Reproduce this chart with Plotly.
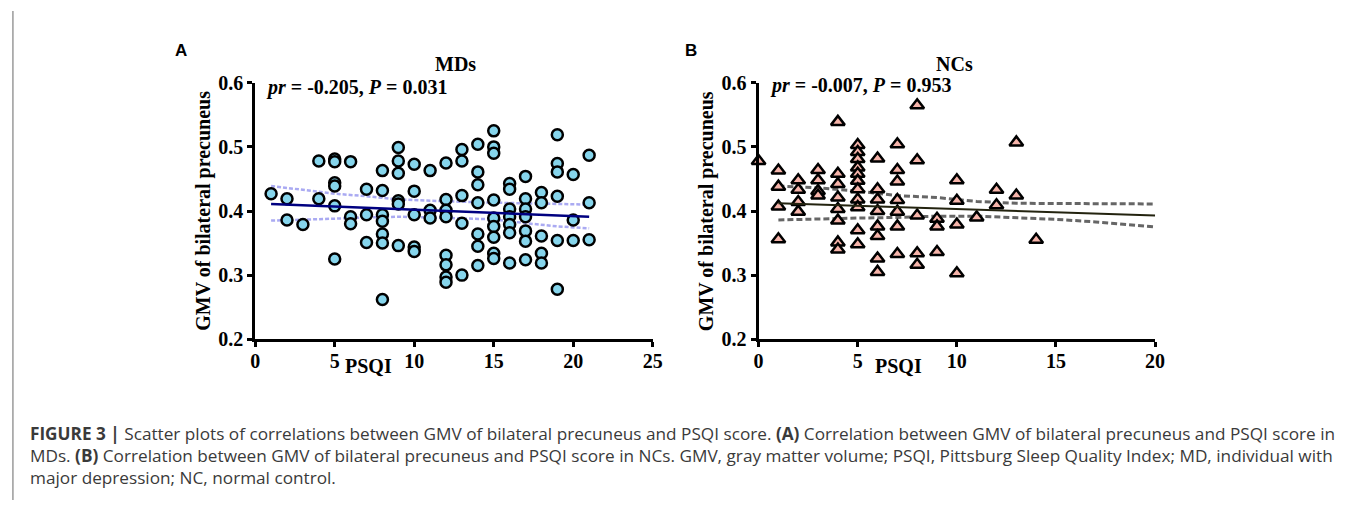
import plotly.graph_objects as go

W, H = 1355, 511

# ---------------- data: panel A (MDs) ----------------
md_x = [1,
        2, 2,
        3,
        4, 4,
        5, 5, 5, 5, 5, 5,
        6, 6, 6,
        7, 7, 7,
        8, 8, 8, 8, 8, 8, 8,
        9, 9, 9, 9, 9, 9,
        10, 10, 10, 10, 10,
        11, 11, 11,
        12, 12, 12, 12, 12, 12, 12, 12,
        13, 13, 13, 13, 13,
        14, 14, 14, 14, 14, 14, 14,
        15, 15, 15, 15, 15, 15, 15, 15, 15,
        16, 16, 16, 16, 16, 16, 16,
        17, 17, 17, 17, 17, 17, 17,
        18, 18, 18, 18, 18,
        19, 19, 19, 19, 19, 19,
        20, 20, 20,
        21, 21, 21]
md_y = [0.427,
        0.419, 0.386,
        0.379,
        0.478, 0.419,
        0.481, 0.477, 0.444, 0.439, 0.408, 0.325,
        0.477, 0.391, 0.380,
        0.434, 0.394, 0.351,
        0.463, 0.432, 0.394, 0.384, 0.364, 0.350, 0.262,
        0.499, 0.478, 0.459, 0.416, 0.411, 0.346,
        0.473, 0.431, 0.394, 0.344, 0.337,
        0.463, 0.401, 0.389,
        0.475, 0.418, 0.401, 0.391, 0.331, 0.316, 0.297, 0.289,
        0.496, 0.478, 0.424, 0.381, 0.300,
        0.504, 0.461, 0.441, 0.413, 0.364, 0.345, 0.315,
        0.525, 0.500, 0.490, 0.417, 0.389, 0.376, 0.359, 0.334, 0.326,
        0.443, 0.434, 0.403, 0.391, 0.379, 0.366, 0.319,
        0.454, 0.419, 0.403, 0.391, 0.369, 0.353, 0.324,
        0.429, 0.413, 0.361, 0.334, 0.319,
        0.519, 0.474, 0.461, 0.423, 0.354, 0.278,
        0.457, 0.386, 0.354,
        0.487, 0.413, 0.355]
md_fit_x = [1, 21]
md_fit_y = [0.411, 0.391]
md_ci_x = [1, 3, 5, 7, 9, 11, 13, 15, 17, 19, 21]
md_ci_upper = [0.439, 0.433, 0.427, 0.423, 0.418, 0.416, 0.414, 0.413, 0.412, 0.411, 0.410]
md_ci_lower = [0.385, 0.386, 0.388, 0.390, 0.391, 0.390, 0.389, 0.387, 0.381, 0.376, 0.373]

# ---------------- data: panel B (NCs) ----------------
nc_x = [0,
        1, 1, 1, 1,
        2, 2, 2, 2,
        3, 3, 3, 3,
        4, 4, 4, 4, 4, 4, 4, 4,
        5, 5, 5, 5, 5, 5, 5, 5, 5, 5, 5,
        6, 6, 6, 6, 6, 6, 6, 6,
        7, 7, 7, 7, 7, 7, 7,
        8, 8, 8, 8, 8,
        9, 9, 9,
        10, 10, 10, 10,
        11,
        12, 12,
        13, 13,
        14]
nc_y = [0.478,
        0.463, 0.438, 0.407, 0.356,
        0.448, 0.433, 0.414, 0.399,
        0.464, 0.448, 0.431, 0.424,
        0.539, 0.458, 0.442, 0.421, 0.403, 0.385, 0.351, 0.340,
        0.503, 0.492, 0.481, 0.468, 0.458, 0.447, 0.434, 0.418, 0.406, 0.370, 0.348,
        0.482, 0.434, 0.418, 0.400, 0.376, 0.361, 0.326, 0.305,
        0.504, 0.464, 0.446, 0.417, 0.399, 0.376, 0.333,
        0.565, 0.479, 0.393, 0.334, 0.316,
        0.388, 0.376, 0.336,
        0.448, 0.416, 0.379, 0.303,
        0.390,
        0.433, 0.409,
        0.507, 0.424,
        0.355]
nc_fit_x = [1, 20]
nc_fit_y = [0.412, 0.393]
nc_ci_x = [1, 3, 5, 7, 9, 11, 13, 15, 17, 19, 20]
nc_ci_upper = [0.439, 0.436, 0.431, 0.424, 0.421, 0.415, 0.412, 0.412, 0.411, 0.411, 0.411]
nc_ci_lower = [0.386, 0.388, 0.389, 0.390, 0.392, 0.392, 0.390, 0.387, 0.383, 0.378, 0.375]

y_ticks = [0.2, 0.3, 0.4, 0.5, 0.6]
y_ticktext = ["0.2", "0.3", "0.4", "0.5", "0.6"]
a_xticks = [0, 5, 10, 15, 20, 25]
b_xticks = [0, 5, 10, 15, 20]

caption_lines = [
    "<b>FIGURE 3 |</b> Scatter plots of correlations between GMV of bilateral precuneus and PSQI score. <b>(A)</b> Correlation between GMV of bilateral precuneus and PSQI score in",
    "MDs. <b>(B)</b> Correlation between GMV of bilateral precuneus and PSQI score in NCs. GMV, gray matter volume; PSQI, Pittsburg Sleep Quality Index; MD, individual with",
    "major depression; NC, normal control.",
]

# ---------------- figure ----------------
def px(x):
    return x / W

def py(y):
    return 1 - y / H

SERIF = "Liberation Serif"

fig = go.Figure()

# Panel A
fig.add_trace(go.Scatter(x=md_ci_x, y=md_ci_upper, mode="lines", xaxis="x", yaxis="y",
                         line=dict(color="#aaaaf2", width=2.5, dash="4px,2px"), hoverinfo="skip"))
fig.add_trace(go.Scatter(x=md_ci_x, y=md_ci_lower, mode="lines", xaxis="x", yaxis="y",
                         line=dict(color="#aaaaf2", width=2.5, dash="4px,2px"), hoverinfo="skip"))
fig.add_trace(go.Scatter(x=md_x, y=md_y, mode="markers", xaxis="x", yaxis="y", cliponaxis=False,
                         marker=dict(symbol="circle", size=11, color="#86d5ec",
                                     line=dict(color="black", width=2.5))))
fig.add_trace(go.Scatter(x=md_fit_x, y=md_fit_y, mode="lines", xaxis="x", yaxis="y",
                         line=dict(color="#000080", width=2.5)))

# Panel B
fig.add_trace(go.Scatter(x=nc_ci_x, y=nc_ci_upper, mode="lines", xaxis="x2", yaxis="y2",
                         line=dict(color="#666666", width=3, dash="6px,3px"), hoverinfo="skip"))
fig.add_trace(go.Scatter(x=nc_ci_x, y=nc_ci_lower, mode="lines", xaxis="x2", yaxis="y2",
                         line=dict(color="#666666", width=3, dash="6px,3px"), hoverinfo="skip"))
fig.add_trace(go.Scatter(x=nc_x, y=nc_y, mode="markers", xaxis="x2", yaxis="y2", cliponaxis=False,
                         marker=dict(symbol="triangle-up", size=12, color="#f6b4aa",
                                     line=dict(color="black", width=2.5))))
fig.add_trace(go.Scatter(x=nc_fit_x, y=nc_fit_y, mode="lines", xaxis="x2", yaxis="y2",
                         line=dict(color="#23230f", width=2)))

axis_common = dict(showline=True, linewidth=3, linecolor="black", ticks="outside",
                   ticklen=5, tickwidth=3, tickcolor="black", showgrid=False, zeroline=False,
                   tickfont=dict(family=SERIF, size=20, color="black", weight="bold"))

y_dom = [py(343), py(75)]
fig.update_layout(
    width=W, height=H, margin=dict(l=0, r=0, t=0, b=0),
    paper_bgcolor="white", plot_bgcolor="rgba(0,0,0,0)", showlegend=False,
    xaxis=dict(domain=[px(253), px(655)], range=[0, 25], tickvals=a_xticks, anchor="y",
               ticklabelstandoff=-3, **axis_common),
    yaxis=dict(domain=y_dom, range=[0.2, 0.6], tickvals=y_ticks, ticktext=y_ticktext, anchor="x", **axis_common),
    xaxis2=dict(domain=[px(762), px(1163)], range=[0, 20], tickvals=b_xticks, anchor="y2",
                ticklabelstandoff=-3, **axis_common),
    yaxis2=dict(domain=y_dom, range=[0.2, 0.6], tickvals=y_ticks, ticktext=y_ticktext, anchor="x2", **axis_common),
)

ann = []
tfont = dict(family=SERIF, size=20, color="black", weight="bold")
for cx, title, axc, psqi_x, letter, letter_x in [
    (456, "MDs", 200, 368, "A", 178),
    (960, "NCs", 709, 904, "B", 694),
]:
    ann.append(dict(x=px(cx), y=py(55), xref="paper", yref="paper", text=title, showarrow=False,
                    font=tfont, xanchor="center", yanchor="middle"))
    ann.append(dict(x=px(axc), y=py(209), xref="paper", yref="paper", text="GMV of bilateral precuneus",
                    showarrow=False, font=tfont, textangle=-90, xanchor="center", yanchor="middle"))
    ann.append(dict(x=px(psqi_x), y=py(371), xref="paper", yref="paper", text="PSQI", showarrow=False,
                    font=tfont, xanchor="center", yanchor="middle"))
    ann.append(dict(x=px(letter_x), y=py(41), xref="paper", yref="paper", text="<b>" + letter + "</b>",
                    showarrow=False, font=dict(family="Liberation Sans", size=17, color="black"),
                    xanchor="center", yanchor="middle"))

stat_font = dict(family=SERIF, size=20, color="black", weight="bold")
ann.append(dict(x=px(262), y=py(80), xref="paper", yref="paper", text="<i>pr</i> = -0.205, <i>P</i> = 0.031",
                showarrow=False, font=stat_font, xanchor="left", yanchor="middle"))
ann.append(dict(x=px(772), y=py(78), xref="paper", yref="paper", text="<i>pr</i> = -0.007, <i>P</i> = 0.953",
                showarrow=False, font=stat_font, xanchor="left", yanchor="middle"))

for i, line in enumerate(caption_lines):
    ann.append(dict(x=px(23), y=py(442 + i * 22.5), xref="paper", yref="paper", text=line,
                    showarrow=False, font=dict(family="Open Sans", size=17.2, color="#3a3a3a"),
                    xanchor="left", yanchor="middle", align="left"))
fig.update_layout(annotations=ann)

fig.add_shape(type="line", xref="paper", yref="paper", x0=px(8), x1=px(8), y0=0, y1=1,
              line=dict(color="#9a9a9a", width=1.5))

fig.write_html("out.html", config={"displayModeBar": False},
               post_script="document.body.style.margin='0';")
